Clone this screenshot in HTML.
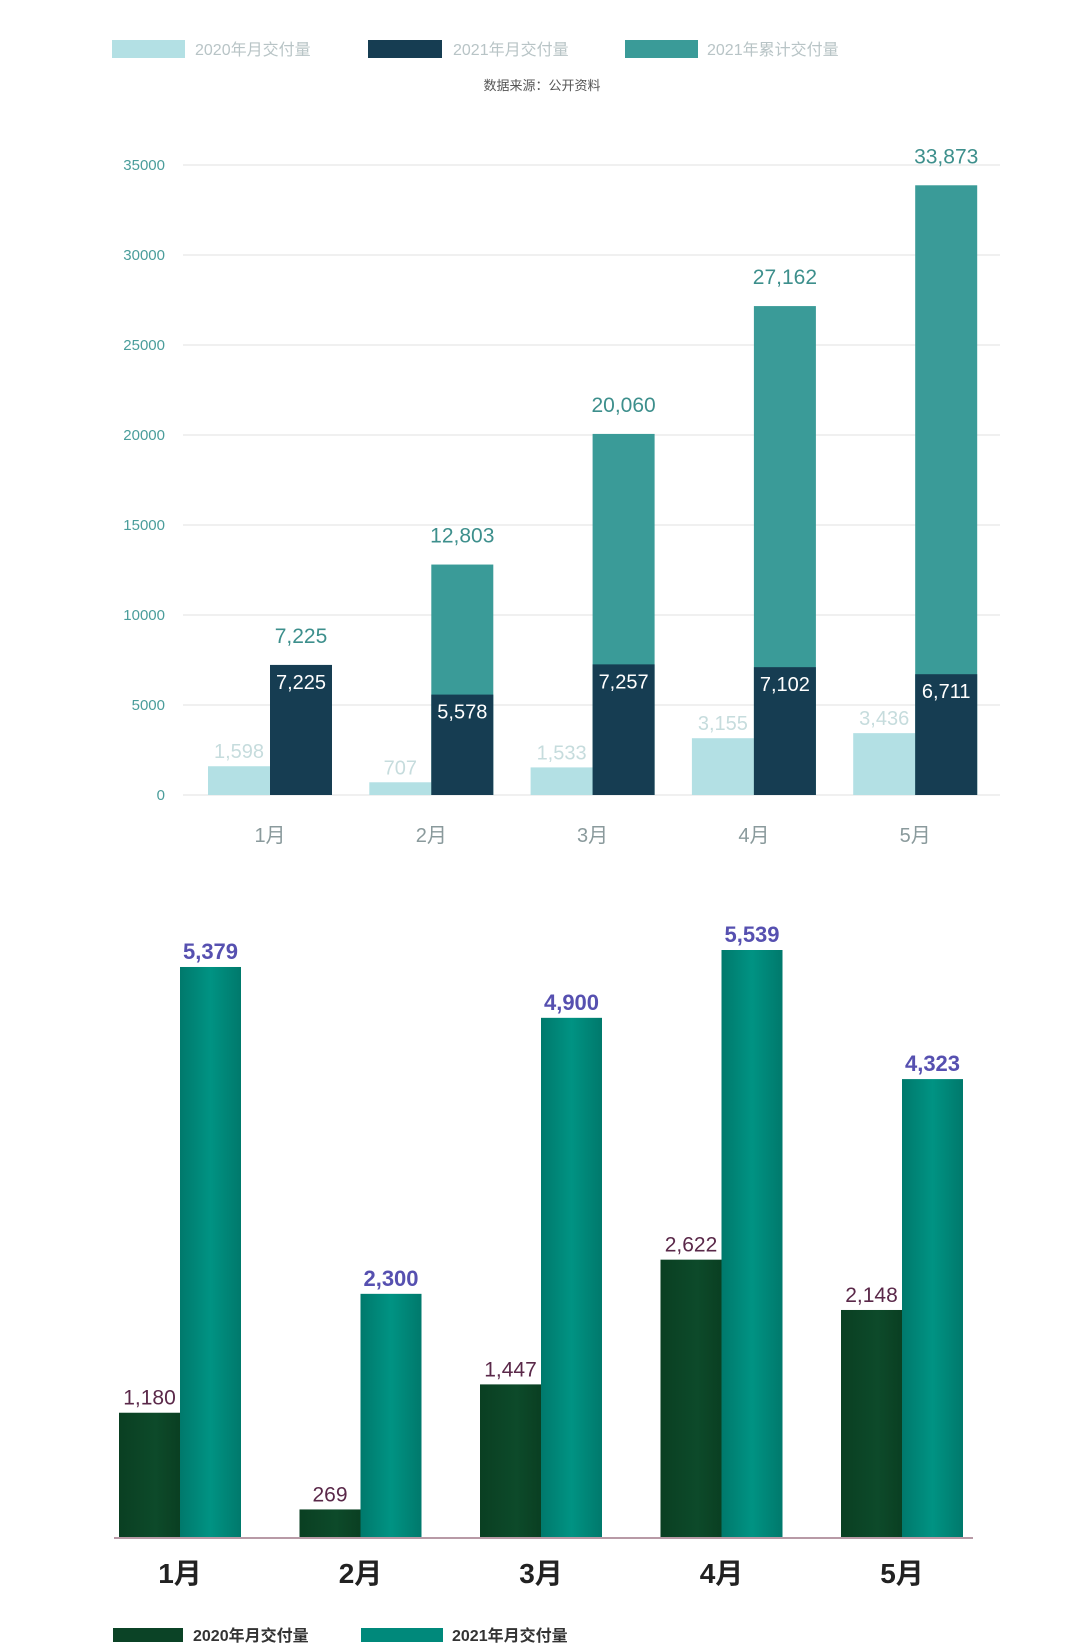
<!DOCTYPE html>
<html><head><meta charset="utf-8">
<style>
body{margin:0;background:#fff;width:1080px;height:1650px;overflow:hidden;font-family:"Liberation Sans","Noto Sans CJK SC",sans-serif;}
svg{display:block}
</style></head>
<body>
<svg id="chart" width="1080" height="1650" viewBox="0 0 1080 1650" xmlns="http://www.w3.org/2000/svg">
<defs>
<linearGradient id="tealGrad" x1="0" x2="1" y1="0" y2="0">
<stop offset="0" stop-color="#00796c"/><stop offset="0.5" stop-color="#009383"/><stop offset="1" stop-color="#00796c"/>
</linearGradient>
<linearGradient id="greenGrad" x1="0" x2="1" y1="0" y2="0">
<stop offset="0" stop-color="#0a3f22"/><stop offset="0.6" stop-color="#0d4a2a"/><stop offset="1" stop-color="#0a3f22"/>
</linearGradient>
</defs>
<g>
<rect x="112" y="40" width="73" height="18" fill="#b3e0e4"/>
<text x="195" y="55" font-size="16" fill="#b8c4c6">2020年月交付量</text>
<rect x="368" y="40" width="74" height="18" fill="#163d52"/>
<text x="453" y="55" font-size="16" fill="#b8c4c6">2021年月交付量</text>
<rect x="625" y="40" width="73" height="18" fill="#3a9b98"/>
<text x="707" y="55" font-size="16" fill="#b8c4c6">2021年累计交付量</text>
<text x="542" y="90" font-size="13" fill="#555" text-anchor="middle">数据来源：公开资料</text>
</g>
<g id="topchart"></g>
<g id="bottomchart"></g>
</svg>
<script>
const months = ["1月","2月","3月","4月","5月"];
const monthly2020 = [1598, 707, 1533, 3155, 3436];
const monthly2021 = [7225, 5578, 7257, 7102, 6711];
const cumulative2021 = [7225, 12803, 20060, 27162, 33873];
const yTicks = [0, 5000, 10000, 15000, 20000, 25000, 30000, 35000];
const labels2020 = ["1,598","707","1,533","3,155","3,436"];
const labels2021 = ["7,225","5,578","7,257","7,102","6,711"];
const labelsCum = ["7,225","12,803","20,060","27,162","33,873"];

const b2020 = [1180, 269, 1447, 2622, 2148];
const b2021 = [5379, 2300, 4900, 5539, 4323];
const bLabels2020 = ["1,180","269","1,447","2,622","2,148"];
const bLabels2021 = ["5,379","2,300","4,900","5,539","4,323"];

const NS = "http://www.w3.org/2000/svg";
function mk(tag, attrs, parent, txt){
  const e = document.createElementNS(NS, tag);
  for (const k in attrs) e.setAttribute(k, attrs[k]);
  if (txt !== undefined) e.textContent = txt;
  parent.appendChild(e);
  return e;
}
// top chart
const topG = document.getElementById('topchart');
const yT = v => 795 - v / 35000 * 630;
const xT = i => 208 + i * 161.3;
const bwT = 62;
yTicks.forEach(t => {
  const l = mk('line', {x1:183, x2:1000, y1:yT(t), y2:yT(t), stroke:'#ebebeb', 'stroke-width':1.5}, topG);
  
  
  const tx = mk('text', {x:165, y:yT(t)+5, 'font-size':15, fill:'#4a9d9b', 'text-anchor':'end'}, topG, String(t));
  
  
});
months.forEach((m, i) => {
  const x0 = xT(i), x1 = x0 + bwT;
  const a = mk('rect', {x:x0, y:yT(monthly2020[i]), width:bwT, height:yT(0)-yT(monthly2020[i]), fill:'#b3e0e4'}, topG);
  
  
  const c = mk('rect', {x:x1, y:yT(cumulative2021[i]), width:bwT, height:yT(0)-yT(cumulative2021[i]), fill:'#3a9b98'}, topG);
  
  
  const d = mk('rect', {x:x1, y:yT(monthly2021[i]), width:bwT, height:yT(0)-yT(monthly2021[i]), fill:'#163d52'}, topG);
  
  
  const t1 = mk('text', {x:x0+bwT/2, y:yT(monthly2020[i])-8, 'font-size':20, fill:'#c6dcdd', 'text-anchor':'middle'}, topG, labels2020[i]);
  
  
  const t2 = mk('text', {x:x1+bwT/2, y:yT(monthly2021[i])+24, 'font-size':20, fill:'#ffffff', 'text-anchor':'middle'}, topG, labels2021[i]);
  
  
  const t3 = mk('text', {x:x1+bwT/2, y:yT(cumulative2021[i])-22, 'font-size':21, fill:'#3d8f8c', 'text-anchor':'middle'}, topG, labelsCum[i]);
  
  
  const xl = mk('text', {x:x1, y:842, 'font-size':20, fill:'#8a9a9c', 'text-anchor':'middle'}, topG, m);
  
  
});
// bottom chart
const botG = document.getElementById('bottomchart');
const yB = v => 1538 - v / 5539 * 588;
const xB = i => 119 + i * 180.5;
const bwB = 61;
months.forEach((m, i) => {
  const x0 = xB(i), x1 = x0 + bwB;
  const a = mk('rect', {x:x0, y:yB(b2020[i]), width:bwB, height:yB(0)-yB(b2020[i]), fill:'url(#greenGrad)'}, botG);
  
  
  const b = mk('rect', {x:x1, y:yB(b2021[i]), width:bwB, height:yB(0)-yB(b2021[i]), fill:'url(#tealGrad)'}, botG);
  
  
  const t1 = mk('text', {x:x0+bwB/2, y:yB(b2020[i])-8, 'font-size':21, fill:'#5a2849', 'text-anchor':'middle'}, botG, bLabels2020[i]);
  
  
  const t2 = mk('text', {x:x1+bwB/2, y:yB(b2021[i])-8, 'font-size':22, 'font-weight':'bold', fill:'#5650b0', 'text-anchor':'middle'}, botG, bLabels2021[i]);
  
  
  const xl = mk('text', {x:x1, y:1583, 'font-size':28, 'font-weight':'bold', fill:'#222', 'text-anchor':'middle'}, botG, m);
  
  
});
const base = mk('line', {x1:114, x2:973, y1:1538, y2:1538, stroke:'#b89aa6', 'stroke-width':2}, botG);


const lg1 = mk('rect', {x:113, y:1628, width:70, height:14, fill:'#0b4326'}, botG);


const lt1 = mk('text', {x:193, y:1641, 'font-size':16, 'font-weight':'bold', fill:'#333'}, botG, '2020年月交付量');


const lg2 = mk('rect', {x:361, y:1628, width:82, height:14, fill:'#00897b'}, botG);


const lt2 = mk('text', {x:452, y:1641, 'font-size':16, 'font-weight':'bold', fill:'#333'}, botG, '2021年月交付量');


</script>
</body></html>
